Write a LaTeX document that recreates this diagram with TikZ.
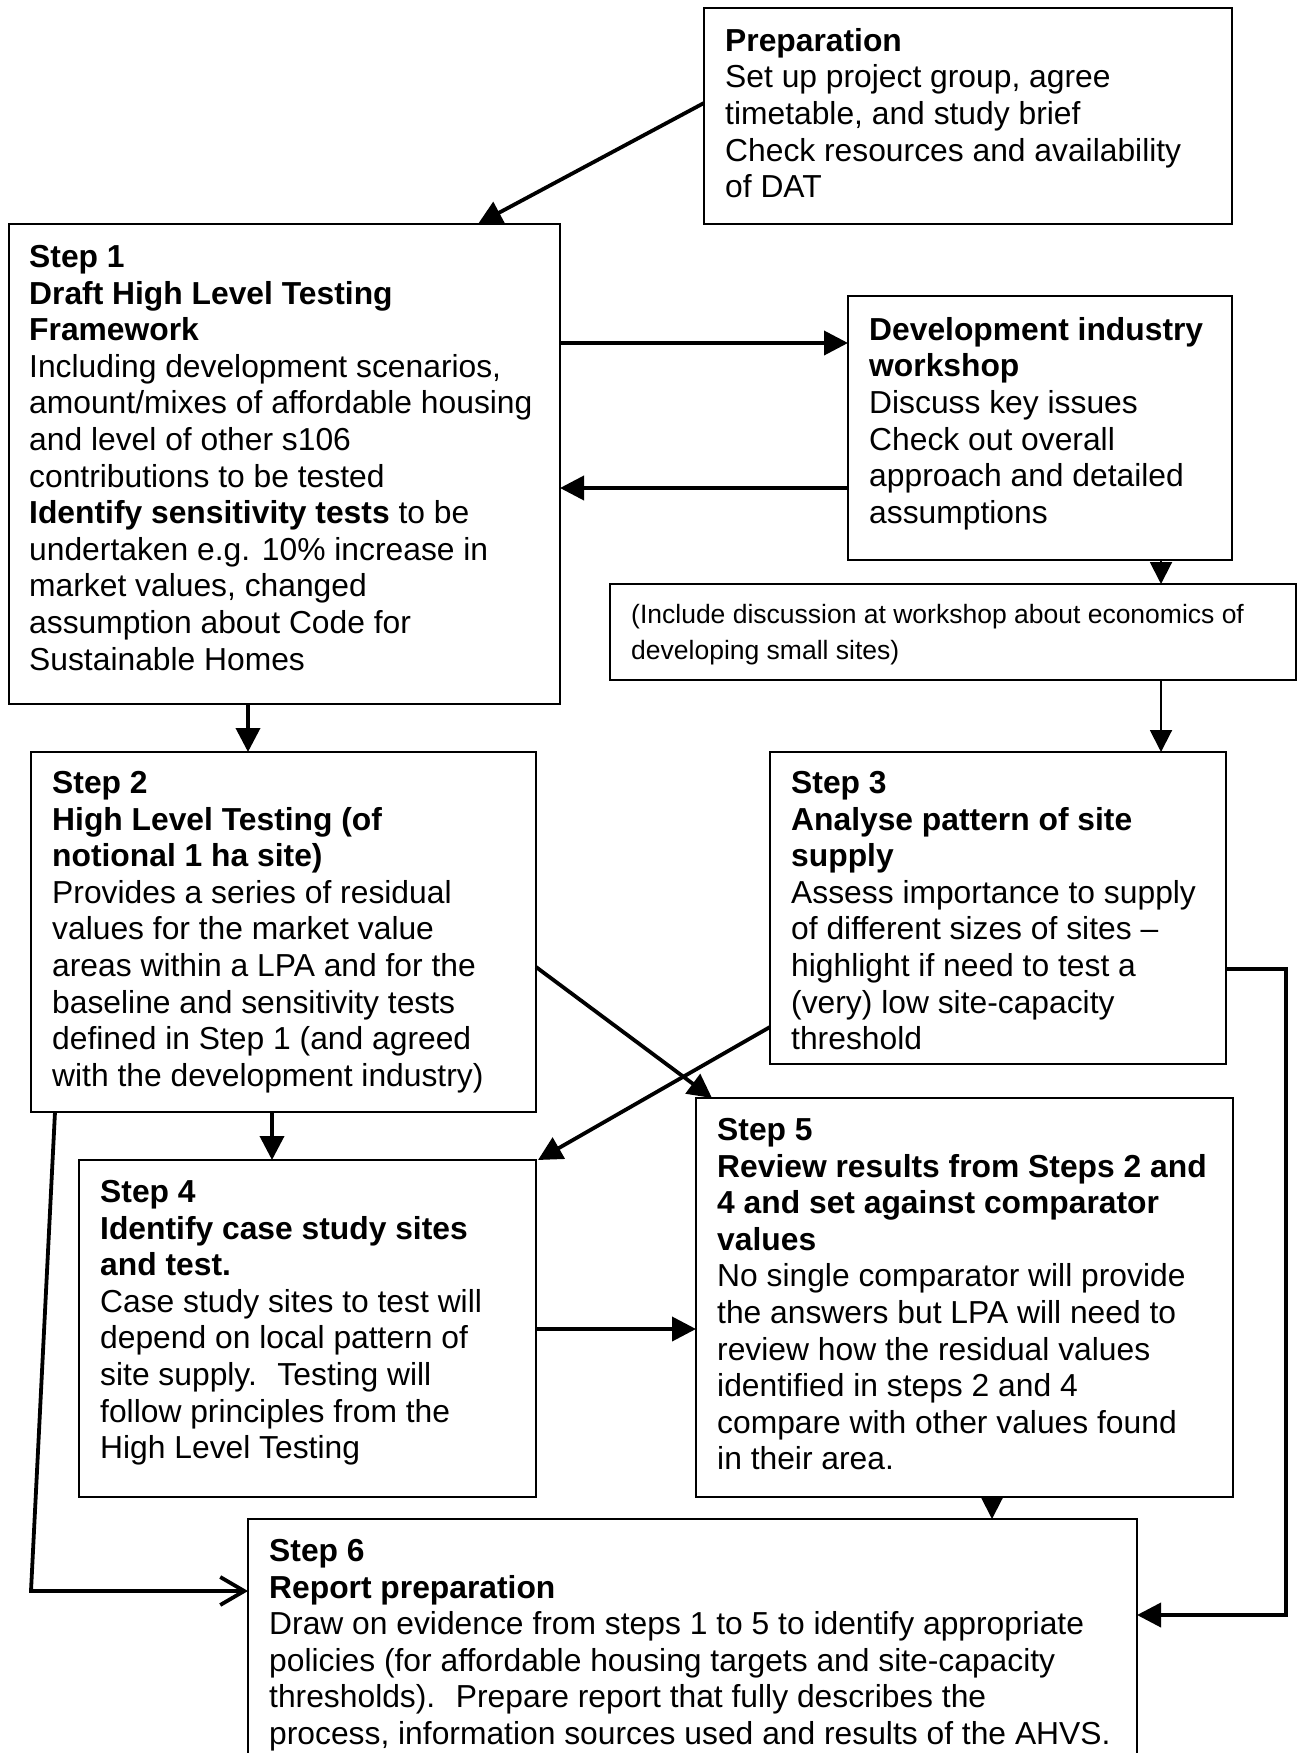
\documentclass[tikz,border=0pt]{standalone}
\usepackage{fontspec}
\setmainfont{Liberation Sans}
\usetikzlibrary{arrows.meta,calc}
\begin{document}
\begin{tikzpicture}[x=1pt,y=-1pt,
  box/.style={draw, line width=1.6pt, anchor=north west, inner sep=0pt, outer sep=0pt},
  txt/.style={anchor=north west, inner sep=0pt, align=left, font=\fontsize{31.8}{36.6}\selectfont},
  smalltxt/.style={anchor=north west, inner sep=0pt, align=left, font=\fontsize{26.5}{35.8}\selectfont},
  arr/.style={line width=3.8pt, -{Triangle[length=24pt,width=24pt]}},
  thinarr/.style={line width=2pt, -{Triangle[length=22pt,width=22pt]}},
  openarr/.style={line width=3.8pt, -{Straight Barb[length=24pt,width=28pt]}},
]
\useasboundingbox (0,0) rectangle (1298,1753);

% boxes
\node[box, minimum width=528pt, minimum height=216pt] (prep) at (704,8) {};
\node[box, minimum width=551pt, minimum height=480pt] (s1) at (9,224) {};
\node[box, minimum width=384pt, minimum height=264pt] (dev) at (848,296) {};
\node[box, minimum width=686pt, minimum height=96pt] (note) at (610,584) {};
\node[box, minimum width=505pt, minimum height=360pt] (s2) at (31,752) {};
\node[box, minimum width=456pt, minimum height=312pt] (s3) at (770,752) {};
\node[box, minimum width=457pt, minimum height=337pt] (s4) at (79,1160) {};
\node[box, minimum width=537pt, minimum height=399pt] (s5) at (696,1098) {};
\node[box, minimum width=889pt, minimum height=260pt] (s6) at (248,1519) {};

% texts
\node[txt] (tprep) at ($(prep.north west)+(21,20)$) {\textbf{Preparation}\\
Set up project group, agree\\
timetable, and study brief\\
Check resources and availability\\
of DAT};

\node[txt] (ts1) at ($(s1.north west)+(20,21)$) {\textbf{Step 1}\\
\textbf{Draft High Level Testing}\\
\textbf{Framework}\\
Including development scenarios,\\
amount/mixes of affordable housing\\
and level of other s106\\
contributions to be tested\\
\textbf{Identify sensitivity tests} to be\\
undertaken e.g. 10\% increase in\\
market values, changed\\
assumption about Code for\\
Sustainable Homes};

\node[txt] (tdev) at ($(dev.north west)+(21,21)$) {\textbf{Development industry}\\
\textbf{workshop}\\
Discuss key issues\\
Check out overall\\
approach and detailed\\
assumptions};

\node[smalltxt] (tnote) at ($(note.north west)+(21,20)$) {(Include discussion at workshop about economics of\\
developing small sites)};

\node[txt] (ts2) at ($(s2.north west)+(21,19)$) {\textbf{Step 2}\\
\textbf{High Level Testing (of}\\
\textbf{notional 1 ha site)}\\
Provides a series of residual\\
values for the market value\\
areas within a LPA and for the\\
baseline and sensitivity tests\\
defined in Step 1 (and agreed\\
with the development industry)};

\node[txt] (ts3) at ($(s3.north west)+(21,19)$) {\textbf{Step 3}\\
\textbf{Analyse pattern of site}\\
\textbf{supply}\\
Assess importance to supply\\
of different sizes of sites –\\
highlight if need to test a\\
(very) low site-capacity\\
threshold};

\node[txt] (ts4) at ($(s4.north west)+(21,20)$) {\textbf{Step 4}\\
\textbf{Identify case study sites}\\
\textbf{and test.}\\
Case study sites to test will\\
depend on local pattern of\\
site supply.~ Testing will\\
follow principles from the\\
High Level Testing};

\node[txt] (ts5) at ($(s5.north west)+(21,20)$) {\textbf{Step 5}\\
\textbf{Review results from Steps 2 and}\\
\textbf{4 and set against comparator}\\
\textbf{values}\\
No single comparator will provide\\
the answers but LPA will need to\\
review how the residual values\\
identified in steps 2 and 4\\
compare with other values found\\
in their area.};

\node[txt] (ts6) at ($(s6.north west)+(21,20)$) {\textbf{Step 6}\\
\textbf{Report preparation}\\
Draw on evidence from steps 1 to 5 to identify appropriate\\
policies (for affordable housing targets and site-capacity\\
thresholds).~ Prepare report that fully describes the\\
process, information sources used and results of the AHVS.};

% connectors
\draw[arr] ($(prep.north west)+(0,95)$) -- ($(s1.north west)+(469,0)$);
\draw[arr] ($(s1.north east)+(0,119)$) -- ($(dev.north west)+(0,47)$);
\draw[arr] ($(dev.north west)+(0,192)$) -- ($(s1.north east)+(0,264)$);
\draw[thinarr] ($(dev.south west)+(313,0)$) -- ($(note.north west)+(551,0)$);
\draw[thinarr] ($(note.south west)+(551,0)$) -- ($(s3.north west)+(391,0)$);
\draw[arr] ($(s1.south west)+(239,0)$) -- ($(s2.north west)+(217,0)$);
\draw[arr] ($(s2.south west)+(241,0)$) -- ($(s4.north west)+(193,0)$);
\draw[arr] ($(s2.north east)+(0,215)$) -- ($(s5.north west)+(16,0)$);
\draw[arr] ($(s3.north west)+(0,275)$) -- ($(s4.north east)+(2,0)$);
\draw[arr] ($(s4.north east)+(0,169)$) -- ($(s5.north west)+(0,231)$);
\draw[thinarr] ($(s5.south west)+(296,0)$) -- ($(s6.north west)+(744,0)$);
\draw[arr] ($(s3.north east)+(0,217)$) -- ++(60,0) -- ++(0,646) -- ($(s6.north east)+(0,96)$);
\draw[openarr] ($(s2.south west)+(24,0)$) -- ($(s2.south west)+(0,479)$) -- ($(s6.north west)+(0,72)$);
\end{tikzpicture}
\end{document}
